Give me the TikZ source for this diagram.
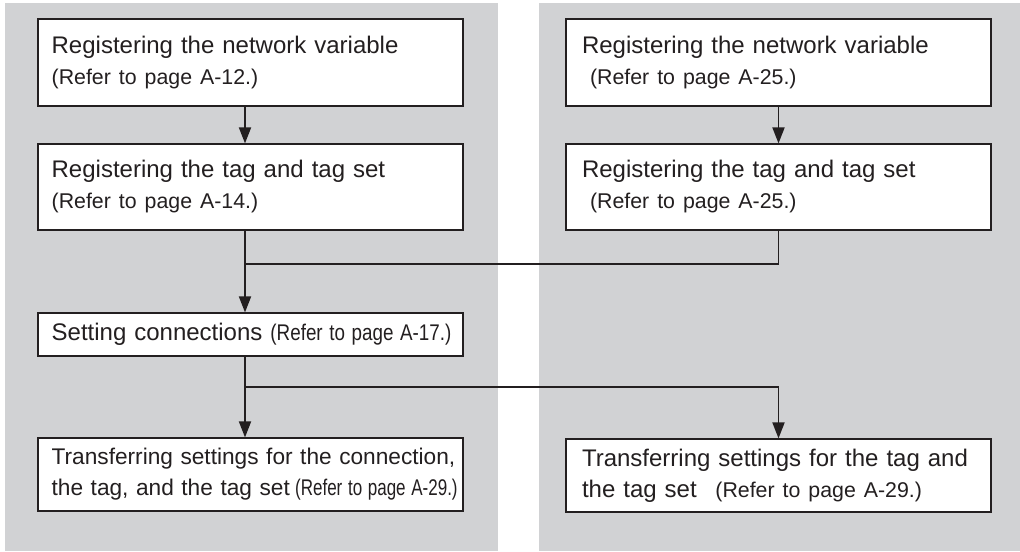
\documentclass[tikz,border=0pt]{standalone}
\usepackage{fontspec}
\usepackage{graphicx}
\setmainfont{Liberation Sans}
\usetikzlibrary{arrows.meta}
\definecolor{panelgray}{RGB}{209,210,212}
\definecolor{ink}{RGB}{35,31,32}
\newcommand{\reftxt}[1]{{\fontsize{16}{23.25}\selectfont #1}}
\newcommand{\reftxtc}[2][0.83]{\scalebox{#1}[1]{\fontsize{17}{23.25}\selectfont #2}}
\tikzset{
  stepbox/.style={draw=ink, line width=0.9pt, fill=white, rectangle,
    minimum width=318.75pt, inner ysep=0pt,
    align=left, font=\fontsize{18}{23.25}\selectfont, text=ink},
  lbox/.style={stepbox, inner xsep=10.25pt, text width=298.25pt},
  rbox/.style={stepbox, inner xsep=12pt, text width=294.75pt},
  flow/.style={draw=ink, line width=1.4pt},
  arr/.style={flow, -{Triangle[length=12pt,width=9pt]}}
}
\begin{document}
\begin{tikzpicture}[x=0.75pt,y=-0.75pt]
\useasboundingbox (0,0) rectangle (1020,551);
\fill[white] (0,0) rectangle (1020,551);
\fill[panelgray] (5,3) rectangle (498,551);
\fill[panelgray] (539,3) rectangle (1020,551);

% left column
\node[lbox, minimum height=65.25pt] (L1) at (250.5,62.5)
  {\mbox{Registering the network variable}\\\mbox{\reftxt{(Refer to page A-12.)}}};
\node[lbox, minimum height=64.5pt] (L2) at (250.5,187)
  {\mbox{Registering the tag and tag set}\\\mbox{\reftxt{(Refer to page A-14.)}}};
\node[lbox, minimum height=32.25pt] (L3) at (250.5,334.5)
  {\mbox{Setting connections \reftxtc{(Refer to page A-17.)}}};
\node[lbox, minimum height=54.75pt, font=\fontsize{17}{23.25}\selectfont] (L4) at (250.5,474.5)
  {\mbox{Transferring settings for the connection,}\\\mbox{the tag, and the tag set\hspace{4pt}\reftxtc[0.75]{(Refer to page A-29.)}}};

% right column
\node[rbox, minimum height=65.25pt] (R1) at (778.5,62.5)
  {\mbox{Registering the network variable}\\\mbox{\hspace*{6pt}\reftxt{(Refer to page A-25.)}}};
\node[rbox, minimum height=64.5pt] (R2) at (778.5,187)
  {\mbox{Registering the tag and tag set}\\\mbox{\hspace*{6pt}\reftxt{(Refer to page A-25.)}}};
\node[rbox, minimum height=54.75pt] (R4) at (778.5,475.5)
  {\mbox{Transferring settings for the tag and}\\\mbox{the tag set\hspace{14pt}\reftxt{(Refer to page A-29.)}}};

% connectors
\coordinate (colL) at (245,0);
\coordinate (J1) at (245,264);
\coordinate (J2) at (245,387);
\draw[arr] (L1.south -| colL) -- (L2.north -| colL);
\draw[arr] (R1.south) -- (R2.north);
\draw[arr] (L2.south -| colL) -- (L3.north -| colL);
\draw[flow] (R2.south) |- (J1);
\draw[arr] (L3.south -| colL) -- (L4.north -| colL);
\draw[arr] (J2) -| (R4.north);
\end{tikzpicture}
\end{document}
